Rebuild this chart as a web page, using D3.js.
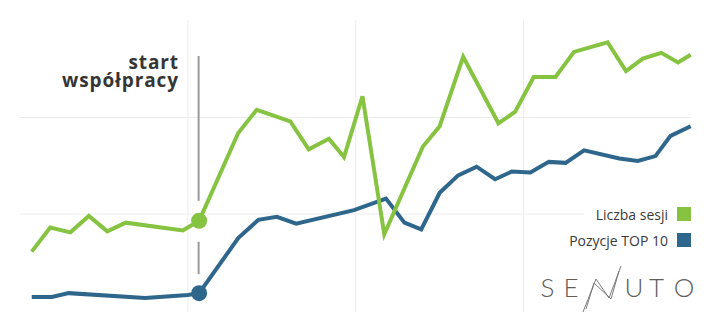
<!DOCTYPE html>
<html lang="pl">
<head>
    <meta charset="UTF-8">
    <title>Liczba sesji i pozycje TOP 10</title>
    <script src="https://cdnjs.cloudflare.com/ajax/libs/d3/7.8.5/d3.min.js"></script>
    <style>
        body {
            margin: 0;
            background-color: #ffffff;
        }
        svg {
            display: block;
        }
    </style>
</head>
<body>
    <svg id="chart" width="710" height="332"></svg>

    <script>
        // Liczba sesji (green) - time position and value
        const sessionX = [0.7, 1.8, 3.0, 4.1, 5.2, 6.3, 9.7, 10.67, 13.0, 14.1, 16.1, 17.2, 18.4, 19.3, 20.4,
            21.7, 24.0, 25.0, 26.4, 28.5, 29.5, 30.6, 31.9, 33.0, 35.0, 36.1, 37.1, 38.2, 39.2, 39.95];
        const sessions = [6.1, 8.6, 8.1, 9.8, 8.2, 9.1, 8.3, 9.3, 18.4, 20.8, 19.6, 16.7, 17.8, 15.9, 22.2,
            7.9, 17.0, 19.1, 26.3, 19.4, 20.6, 24.2, 24.2, 26.8, 27.8, 24.8, 26.1, 26.7, 25.7, 26.5];

        // Pozycje TOP 10 (blue)
        const topX = [0.7, 1.9, 2.9, 7.45, 10.0, 10.67, 13.0, 14.2, 15.3, 16.45, 19.9, 21.8, 22.9, 23.9, 25.0,
            26.1, 27.2, 28.3, 29.3, 30.4, 31.5, 32.5, 33.6, 35.7, 36.8, 37.85, 38.75, 39.95];
        const top10 = [1.4, 1.4, 1.8, 1.3, 1.6, 1.8, 7.5, 9.4, 9.7, 9.0, 10.4, 11.6, 9.1, 8.4, 12.2,
            14.0, 14.9, 13.6, 14.4, 14.3, 15.4, 15.3, 16.6, 15.75, 15.5, 16.0, 18.1, 19.1];

        const xTicks = [0, 10, 20, 30, 40];
        const yTicks = [10, 20];
        const startX = 10.67; // start współpracy

        const svg = d3.select("#chart");

        const x = d3.scaleLinear().domain([0, 40]).range([20, 691.5]);
        const y = d3.scaleLinear().domain([0, 30]).range([310.5, 21]);

        // grid
        svg.append("g")
            .selectAll("line")
            .data(xTicks.slice(1, -1))
            .enter().append("line")
            .attr("x1", d => x(d)).attr("x2", d => x(d))
            .attr("y1", 20).attr("y2", 312)
            .attr("stroke", "#ececec")
            .attr("stroke-width", 1);

        svg.append("g")
            .selectAll("line")
            .data(yTicks)
            .enter().append("line")
            .attr("x1", x(0)).attr("x2", x(40))
            .attr("y1", d => y(d)).attr("y2", d => y(d))
            .attr("stroke", "#ececec")
            .attr("stroke-width", 1);

        // marker line for start współpracy
        const gY = y(sessions[sessionX.indexOf(startX)]);
        const bY = y(top10[topX.indexOf(startX)]);
        svg.append("line")
            .attr("x1", x(startX) - 0.5).attr("x2", x(startX) - 0.5)
            .attr("y1", 56).attr("y2", gY - 20)
            .attr("stroke", "#9a9a9a").attr("stroke-width", 2);
        svg.append("line")
            .attr("x1", x(startX) - 0.5).attr("x2", x(startX) - 0.5)
            .attr("y1", gY + 21).attr("y2", bY - 19)
            .attr("stroke", "#9a9a9a").attr("stroke-width", 2);

        // annotation, two separate lines
        ["start", "współpracy"].forEach((t, i) => {
            svg.append("text")
                .attr("x", 179)
                .attr("y", 69 + i * 18)
                .attr("text-anchor", "end")
                .attr("font-family", "'Open Sans', sans-serif")
                .attr("font-weight", 700)
                .attr("font-size", 19)
                .attr("letter-spacing", 0.9)
                .attr("fill", "#353535")
                .text(t);
        });

        // lines
        const line = d3.line()
            .x(d => x(d[0]))
            .y(d => y(d[1]));

        svg.append("path")
            .datum(topX.map((d, i) => [d, top10[i]]))
            .attr("fill", "none")
            .attr("stroke", "#2f668c")
            .attr("stroke-width", 4)
            .attr("d", line);

        svg.append("path")
            .datum(sessionX.map((d, i) => [d, sessions[i]]))
            .attr("fill", "none")
            .attr("stroke", "#85c341")
            .attr("stroke-width", 4)
            .attr("d", line);

        svg.append("circle")
            .attr("cx", x(startX)).attr("cy", gY).attr("r", 8)
            .attr("fill", "#85c341");
        svg.append("circle")
            .attr("cx", x(startX)).attr("cy", bY).attr("r", 8)
            .attr("fill", "#2f668c");

        // legend
        const legend = svg.append("g");
        legend.append("rect")
            .attr("x", 584).attr("y", 200).attr("width", 126).attr("height", 54)
            .attr("fill", "#ffffff");
        const items = [
            {label: "Liczba sesji", color: "#85c341"},
            {label: "Pozycje TOP 10", color: "#2f668c"}
        ];
        items.forEach((it, i) => {
            legend.append("rect")
                .attr("x", 677).attr("y", 207 + i * 26)
                .attr("width", 14).attr("height", 14)
                .attr("fill", it.color);
            legend.append("text")
                .attr("x", 668).attr("y", 219.5 + i * 26)
                .attr("text-anchor", "end")
                .attr("font-family", "'Open Sans', sans-serif")
                .attr("font-size", 14)
                .attr("fill", "#3a3a3a")
                .text(it.label);
        });

        // logo
        const logo = svg.append("g")
            .attr("font-family", "Lato, sans-serif")
            .attr("font-weight", 300)
            .attr("font-size", 26)
            .attr("fill", "#5e5e5e")
            .attr("text-anchor", "middle");
        [["S", 547.5], ["E", 571], ["U", 634], ["T", 656.5], ["O", 684]].forEach(l => {
            logo.append("text").attr("x", l[1]).attr("y", 297).text(l[0]);
        });
        const nPaths = [
            [[583, 312], [596, 279], [609, 298], [621, 266]],
            [[586, 309], [594, 283], [611, 299], [619, 271]]
        ];
        nPaths.forEach(p => {
            svg.append("path")
                .attr("d", d3.line()(p))
                .attr("fill", "none")
                .attr("stroke", "#6e6e6e")
                .attr("stroke-width", 0.9);
        });
    </script>
</body>
</html>
